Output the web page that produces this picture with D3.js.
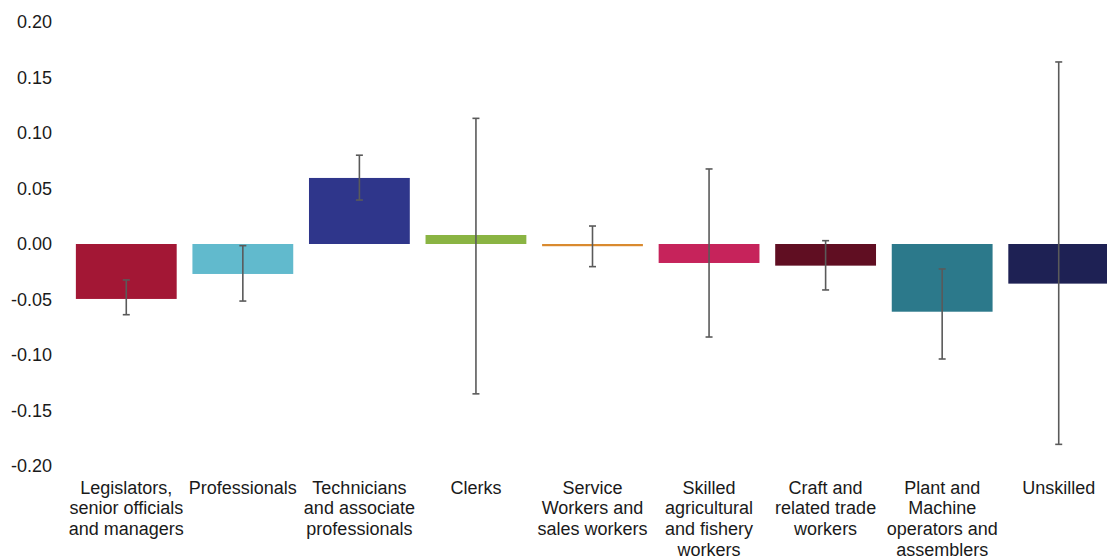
<!DOCTYPE html>
<html>
<head>
<meta charset="utf-8">
<script src="https://cdn.jsdelivr.net/npm/d3@7"></script>
<style>
  html, body { margin: 0; padding: 0; background: #fff; }
  svg { display: block; font-family: "Liberation Sans", Arial, sans-serif; }
</style>
</head>
<body>
<svg id="chart" width="1107" height="556"></svg>
<script>
const categories = [
  "Legislators, senior officials and managers",
  "Professionals",
  "Technicians and associate professionals",
  "Clerks",
  "Service Workers and sales workers",
  "Skilled agricultural and fishery workers",
  "Craft and related trade workers",
  "Plant and Machine operators and assemblers",
  "Unskilled"
];
const categoryLines = [
  ["Legislators,", "senior officials", "and managers"],
  ["Professionals"],
  ["Technicians", "and associate", "professionals"],
  ["Clerks"],
  ["Service", "Workers and", "sales workers"],
  ["Skilled", "agricultural", "and fishery", "workers"],
  ["Craft and", "related trade", "workers"],
  ["Plant and", "Machine", "operators and", "assemblers"],
  ["Unskilled"]
];
const values   = [-0.0495, -0.027, 0.0595, 0.0081, -0.002, -0.0171, -0.0195, -0.061, -0.0357];
const errLow   = [-0.0637, -0.0514, 0.0396, -0.135, -0.0204, -0.0838, -0.0414, -0.1036, -0.1805];
const errHigh  = [-0.0324, -0.0015, 0.0800, 0.1132, 0.0162, 0.0676, 0.0030, -0.0225, 0.1640];
const colors   = ["#A31735", "#61BACD", "#2F368B", "#8AB443", "#D98A2F", "#C6235B", "#600E22", "#2C798B", "#1E2154"];
const yTicks   = [-0.20, -0.15, -0.10, -0.05, 0.00, 0.05, 0.10, 0.15, 0.20];

const svg = d3.select("#chart");

const x = d3.scaleBand()
  .domain(categories)
  .range([68, 1117])
  .paddingInner(0.135)
  .paddingOuter(0.0675);

const y = d3.scaleLinear()
  .domain([-0.2, 0.2])
  .range([466, 22]);

// Y axis
const yAxis = svg.append("g")
  .attr("transform", "translate(52,0)")
  .call(d3.axisLeft(y).tickValues(yTicks).tickSize(0).tickPadding(0)
    .tickFormat(d => d.toFixed(2)));
yAxis.select(".domain").remove();
yAxis.selectAll("text")
  .attr("font-size", 18)
  .attr("font-family", "'Liberation Sans', Arial, sans-serif")
  .attr("fill", "#1a1a1a");

// Bars
const data = categories.map((c, i) => ({c, v: values[i], lo: errLow[i], hi: errHigh[i], col: colors[i]}));

svg.append("g").selectAll("rect")
  .data(data)
  .join("rect")
  .attr("x", d => x(d.c))
  .attr("width", x.bandwidth())
  .attr("y", d => y(Math.max(0, d.v)))
  .attr("height", d => Math.abs(y(d.v) - y(0)))
  .attr("fill", d => d.col);

// Error bars
const eb = svg.append("g").attr("stroke", "#5a5a5a").attr("stroke-width", 1.6);
eb.selectAll("line.v")
  .data(data)
  .join("line")
  .attr("class", "v")
  .attr("x1", d => x(d.c) + x.bandwidth() / 2)
  .attr("x2", d => x(d.c) + x.bandwidth() / 2)
  .attr("y1", d => y(d.hi))
  .attr("y2", d => y(d.lo));
eb.selectAll("line.t")
  .data(data)
  .join("line")
  .attr("class", "t")
  .attr("x1", d => x(d.c) + x.bandwidth() / 2 - 3.5)
  .attr("x2", d => x(d.c) + x.bandwidth() / 2 + 3.5)
  .attr("y1", d => y(d.hi))
  .attr("y2", d => y(d.hi));
eb.selectAll("line.b")
  .data(data)
  .join("line")
  .attr("class", "b")
  .attr("x1", d => x(d.c) + x.bandwidth() / 2 - 3.5)
  .attr("x2", d => x(d.c) + x.bandwidth() / 2 + 3.5)
  .attr("y1", d => y(d.lo))
  .attr("y2", d => y(d.lo));

// X axis labels
const xAxis = svg.append("g")
  .attr("transform", "translate(0,480)")
  .call(d3.axisBottom(x).tickSize(0).tickPadding(0));
xAxis.select(".domain").remove();
xAxis.selectAll(".tick text").each(function(d) {
  const i = categories.indexOf(d);
  const t = d3.select(this);
  t.text(null)
   .attr("y", 0)
   .attr("dy", null)
   .attr("font-size", 18)
   .attr("font-family", "'Liberation Sans', Arial, sans-serif")
   .attr("fill", "#1a1a1a")
   .attr("text-anchor", "middle");
  categoryLines[i].forEach((line, k) => {
    t.append("tspan")
      .attr("x", 0)
      .attr("y", 13.5 + k * 20.7)
      .text(line);
  });
});
</script>
</body>
</html>
